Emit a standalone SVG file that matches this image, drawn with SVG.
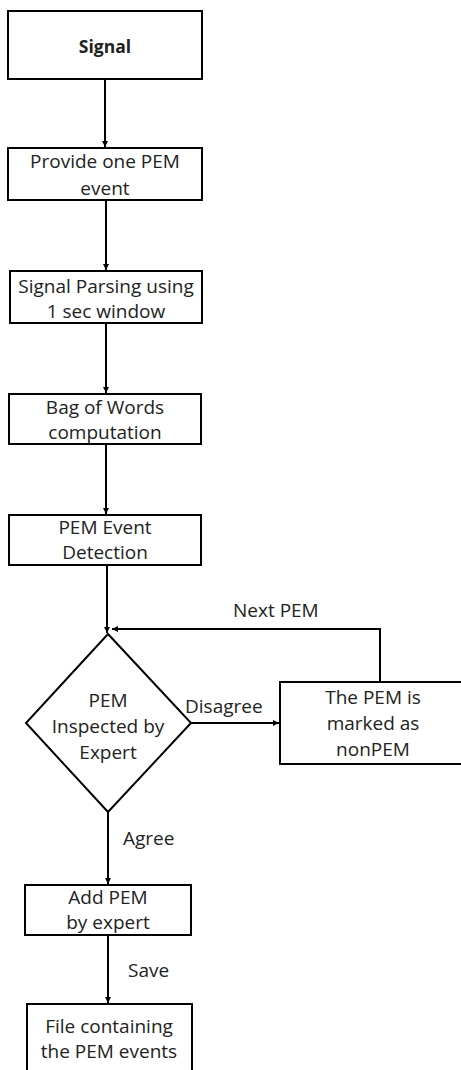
<svg xmlns="http://www.w3.org/2000/svg" width="461" height="1070" viewBox="0 0 461 1070">
<defs>
<marker id="ah" viewBox="0 0 10 10" refX="10" refY="5" markerWidth="6" markerHeight="6" orient="auto" markerUnits="userSpaceOnUse">
<path d="M0,0 L10,5 L0,10 z" fill="#000"/>
</marker>
<style>
.box{fill:#fff;stroke:#000;stroke-width:2}
.t{font-family:"Open Sans","Liberation Sans",sans-serif;font-size:19px;fill:#222;text-anchor:middle}
.b{font-weight:bold;font-size:17.5px}
.c{fill:none;stroke:#000;stroke-width:2;marker-end:url(#ah)}
.l{font-family:"Open Sans","Liberation Sans",sans-serif;font-size:19px;fill:#222}
</style>
</defs>
<rect width="461" height="1070" fill="#fff"/>
<g id="connectors">
<path class="c" d="M105,79 V147"/>
<path class="c" d="M106,200 V270"/>
<path class="c" d="M106,323 V393"/>
<path class="c" d="M106,444 V514"/>
<path class="c" d="M107,565 V633"/>
<path class="c" d="M191,723 H279"/>
<path class="c" d="M380,682 V629 H112"/>
<path class="c" d="M108,812 V884"/>
<path class="c" d="M108,935 V1003"/>
<text class="l" x="233" y="617">Next PEM</text>
<text class="l" x="185" y="713">Disagree</text>
<text class="l" x="123" y="845">Agree</text>
<text class="l" x="128" y="977">Save</text>
</g>
<g id="signal">
<rect class="box" x="8" y="11" width="194" height="68"/>
<text class="t b" x="105" y="53">Signal</text>
</g>
<g id="provide">
<rect class="box" x="8" y="148" width="194" height="52"/>
<text class="t" x="105" y="168">Provide one PEM</text>
<text class="t" x="105" y="195">event</text>
</g>
<g id="parsing">
<rect class="box" x="10" y="271" width="192" height="52"/>
<text class="t" x="106" y="293">Signal Parsing using</text>
<text class="t" x="106" y="318">1 sec window</text>
</g>
<g id="bow">
<rect class="box" x="9" y="394" width="192" height="50"/>
<text class="t" x="105" y="414">Bag of Words</text>
<text class="t" x="105" y="439">computation</text>
</g>
<g id="detection">
<rect class="box" x="9" y="515" width="192" height="50"/>
<text class="t" x="105" y="534">PEM Event</text>
<text class="t" x="105" y="559">Detection</text>
</g>
<g id="decision">
<polygon class="box" points="108,634 191,723 108,812 26,723"/>
<text class="t" x="108" y="707">PEM</text>
<text class="t" x="108" y="733">Inspected by</text>
<text class="t" x="108" y="759">Expert</text>
</g>
<g id="nonpem">
<rect class="box" x="280" y="682" width="190" height="82"/>
<text class="t" x="373" y="704">The PEM is</text>
<text class="t" x="373" y="730">marked as</text>
<text class="t" x="373" y="756">nonPEM</text>
</g>
<g id="add">
<rect class="box" x="25" y="885" width="166" height="50"/>
<text class="t" x="108" y="904">Add PEM</text>
<text class="t" x="108" y="929">by expert</text>
</g>
<g id="file">
<rect class="box" x="27" y="1004" width="165" height="70"/>
<text class="t" x="109" y="1033">File containing</text>
<text class="t" x="109" y="1058">the PEM events</text>
</g>
</svg>
